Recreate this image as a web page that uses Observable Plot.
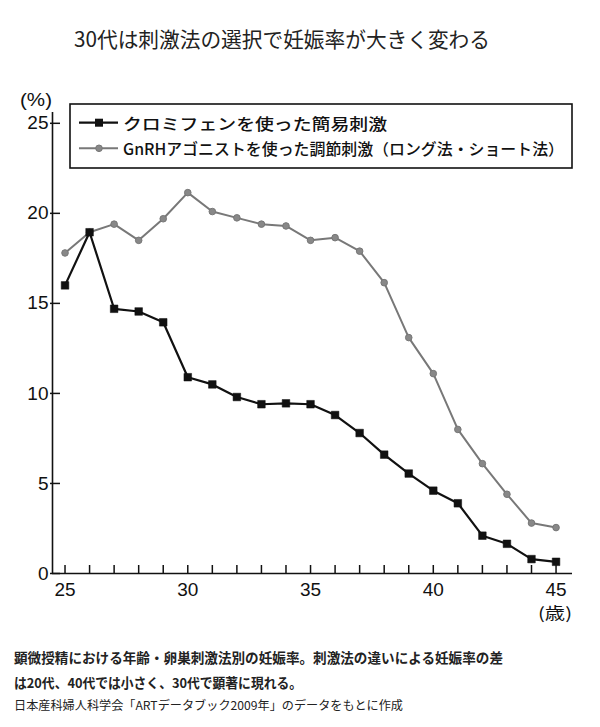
<!DOCTYPE html>
<html>
<head>
<meta charset="utf-8">
<script src="https://cdn.jsdelivr.net/npm/d3@7"></script>
<script src="https://cdn.jsdelivr.net/npm/@observablehq/plot@0.6"></script>
<style>
  html, body { margin: 0; padding: 0; background: #fff; }
  #wrap { position: relative; width: 600px; height: 727px; overflow: hidden; background: #fff; }
  #chart { position: absolute; left: 0; top: 60px; }
  #overlay { position: absolute; left: 0; top: 0; pointer-events: none; }
</style>
</head>
<body>
<div id="wrap">
  <div id="chart"></div>
  <svg id="overlay" width="600" height="727"></svg>
</div>
<script>
// ---- data ----
const ages = [25, 26, 27, 28, 29, 30, 31, 32, 33, 34, 35, 36, 37, 38, 39, 40, 41, 42, 43, 44, 45];
const clomiphene = [16.0, 18.95, 14.7, 14.55, 13.95, 10.9, 10.5, 9.8, 9.4, 9.45, 9.4, 8.8, 7.8, 6.6, 5.55, 4.6, 3.9, 2.1, 1.65, 0.8, 0.65];
const gnrh = [17.8, 18.95, 19.4, 18.5, 19.7, 21.15, 20.1, 19.75, 19.4, 19.3, 18.5, 18.65, 17.9, 16.15, 13.1, 11.1, 8.0, 6.1, 4.4, 2.8, 2.55];
const xTickLabels = [25, 30, 35, 40, 45];
const yTicks = [0, 5, 10, 15, 20, 25];

const title = "30代は刺激法の選択で妊娠率が大きく変わる";
const seriesNames = ["クロミフェンを使った簡易刺激", "GnRHアゴニストを使った調節刺激（ロング法・ショート法）"];
const yUnit = "(%)";
const xUnit = "(歳)";
const captionLines = [
  "顕微授精における年齢・卵巣刺激法別の妊娠率。刺激法の違いによる妊娠率の差",
  "は20代、40代では小さく、30代で顕著に現れる。"
];
const sourceLine = "日本産科婦人科学会「ARTデータブック2009年」のデータをもとに作成";

// ---- tables ----
const clomTable = ages.map((a, i) => ({age: a, rate: clomiphene[i]}));
const gnrhTable = ages.map((a, i) => ({age: a, rate: gnrh[i]}));

const xDomain = [24.49, 45.67];
const yDomain = [0, 25.6];

const chart = Plot.plot({
  width: 600,
  height: 570,
  marginLeft: 52,
  marginRight: 28,
  marginTop: 52,
  marginBottom: 57,
  style: {fontFamily: "'Liberation Sans', Arial, sans-serif", fontSize: "19px", color: "#111", background: "#fff"},
  x: {domain: xDomain},
  y: {domain: yDomain},
  marks: [
    Plot.ruleY([0], {stroke: "#111", strokeWidth: 1.6}),
    Plot.ruleX([xDomain[0]], {stroke: "#111", strokeWidth: 1.6}),
    // inward tick marks (x: every year, y: every 5%)
    Plot.ruleX(ages, {x: d => d, y1: 0, y2: 0, insetTop: -8, stroke: "#111", strokeWidth: 1.5}),
    Plot.ruleY(yTicks, {y: d => d, x1: xDomain[0], x2: xDomain[0], insetLeft: -2, insetRight: -8, stroke: "#111", strokeWidth: 1.5}),
    Plot.axisX({ticks: xTickLabels, tickSize: 0, tickPadding: 9, tickFormat: d => String(d), label: null, fontSize: 19, fill: "#111"}),
    Plot.axisY({ticks: yTicks, tickSize: 0, tickPadding: 4, tickFormat: d => String(d), label: null, fontSize: 19, fill: "#111"}),
    Plot.line(gnrhTable, {x: "age", y: "rate", stroke: "#787878", strokeWidth: 2}),
    Plot.dot(gnrhTable, {x: "age", y: "rate", r: 3.3, fill: "#888", stroke: "#777", strokeWidth: 1}),
    Plot.line(clomTable, {x: "age", y: "rate", stroke: "#111", strokeWidth: 2.2}),
    Plot.dot(clomTable, {x: "age", y: "rate", symbol: "square", r: 4.3, fill: "#111", stroke: "#111", strokeWidth: 0.5})
  ]
});
document.getElementById("chart").appendChild(chart);

// ---- overlay texts & legend ----
const svg = d3.select("#overlay");
const cjk = "'Noto Sans CJK JP', 'Noto Sans', sans-serif";

svg.append("text").attr("x", 74).attr("y", 37.5).attr("dominant-baseline", "central")
  .attr("font-family", cjk).attr("font-size", 21).attr("fill", "#222")
  .attr("textLength", 416).attr("lengthAdjust", "spacingAndGlyphs").text(title);

// legend
svg.append("rect").attr("x", 70).attr("y", 104).attr("width", 502).attr("height", 64)
  .attr("fill", "#fff").attr("stroke", "#111").attr("stroke-width", 1.6);
const legY = [122.7, 148.3];
const legLen = [264, 441];
svg.append("line").attr("x1", 79).attr("x2", 118).attr("y1", legY[0]).attr("y2", legY[0]).attr("stroke", "#111").attr("stroke-width", 2.2);
svg.append("rect").attr("x", 99 - 4).attr("y", legY[0] - 4).attr("width", 8).attr("height", 8).attr("fill", "#111");
svg.append("line").attr("x1", 79).attr("x2", 118).attr("y1", legY[1]).attr("y2", legY[1]).attr("stroke", "#787878").attr("stroke-width", 2);
svg.append("circle").attr("cx", 99).attr("cy", legY[1]).attr("r", 3.3).attr("fill", "#888").attr("stroke", "#777");
seriesNames.forEach((s, i) => {
  svg.append("text").attr("x", 123).attr("y", legY[i]).attr("dominant-baseline", "central")
    .attr("font-family", cjk).attr("font-size", 15.5).attr("font-weight", 500).attr("fill", "#111")
    .attr("textLength", legLen[i]).attr("lengthAdjust", "spacingAndGlyphs").text(s);
});

// units
svg.append("text").attr("x", 20).attr("y", 100).attr("dominant-baseline", "central")
  .attr("font-family", "'Liberation Sans', Arial, sans-serif").attr("font-size", 18).attr("fill", "#111")
  .attr("textLength", 32).attr("lengthAdjust", "spacingAndGlyphs").text(yUnit);
svg.append("text").attr("x", 538).attr("y", 612).attr("dominant-baseline", "central")
  .attr("font-family", cjk).attr("font-size", 16).attr("fill", "#111")
  .attr("textLength", 34).attr("lengthAdjust", "spacingAndGlyphs").text(xUnit);

// captions
const capY = [657, 682.3];
const capLen = [489, 288];
captionLines.forEach((c, i) => {
  svg.append("text").attr("x", 14).attr("y", capY[i]).attr("dominant-baseline", "central")
    .attr("font-family", cjk).attr("font-size", 13.5).attr("font-weight", "bold").attr("fill", "#222")
    .attr("textLength", capLen[i]).attr("lengthAdjust", "spacingAndGlyphs").text(c);
});
svg.append("text").attr("x", 14).attr("y", 704).attr("dominant-baseline", "central")
  .attr("font-family", cjk).attr("font-size", 12).attr("fill", "#222")
  .attr("textLength", 389).attr("lengthAdjust", "spacingAndGlyphs").text(sourceLine);
</script>
</body>
</html>
